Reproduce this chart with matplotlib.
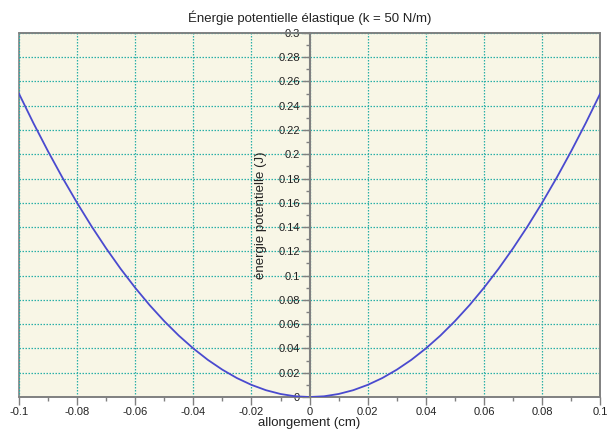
import matplotlib
matplotlib.use("Agg")
import matplotlib.pyplot as plt
from matplotlib.ticker import MultipleLocator, FuncFormatter

plt.rcParams['font.family'] = ['Liberation Sans', 'DejaVu Sans']

# Data (elongation in cm, potential energy in J)
allongement = [-0.100, -0.095, -0.090, -0.085, -0.080, -0.075, -0.070, -0.065, -0.060, -0.055,
               -0.050, -0.045, -0.040, -0.035, -0.030, -0.025, -0.020, -0.015, -0.010, -0.005,
               0.000, 0.005, 0.010, 0.015, 0.020, 0.025, 0.030, 0.035, 0.040, 0.045,
               0.050, 0.055, 0.060, 0.065, 0.070, 0.075, 0.080, 0.085, 0.090, 0.095, 0.100]
energie = [0.2500, 0.2256, 0.2025, 0.1806, 0.1600, 0.1406, 0.1225, 0.1056, 0.0900, 0.0756,
           0.0625, 0.0506, 0.0400, 0.0306, 0.0225, 0.0156, 0.0100, 0.0056, 0.0025, 0.0006,
           0.0000, 0.0006, 0.0025, 0.0056, 0.0100, 0.0156, 0.0225, 0.0306, 0.0400, 0.0506,
           0.0625, 0.0756, 0.0900, 0.1056, 0.1225, 0.1406, 0.1600, 0.1806, 0.2025, 0.2256, 0.2500]

title = "Énergie potentielle élastique (k = 50 N/m)"
xlabel = "allongement (cm)"
ylabel = "énergie potentielle (J)"

fig = plt.figure(figsize=(6.1, 4.32), dpi=100)
ax = fig.add_axes([0.031, 0.081, 0.953, 0.843])
ax.set_facecolor('#F8F6E6')
ax.patch.set_edgecolor('#808080')
ax.patch.set_linewidth(1.2)

ax.plot(allongement, energie, color='#4A4ACF', lw=1.3, zorder=3)

ax.set_xlim(-0.1, 0.1)
ax.set_ylim(0, 0.3)

for s in ['top', 'right', 'bottom']:
    ax.spines[s].set_color('#808080')
    ax.spines[s].set_linewidth(1.2)
ax.spines['left'].set_position(('data', 0))
ax.spines['left'].set_color('#808080')
ax.spines['left'].set_linewidth(1.5)
ax.spines['left'].set_zorder(4)

ax.xaxis.set_major_locator(MultipleLocator(0.02))
ax.xaxis.set_minor_locator(MultipleLocator(0.01))
ax.yaxis.set_major_locator(MultipleLocator(0.02))
ax.yaxis.set_minor_locator(MultipleLocator(0.01))

def fmt(v, pos):
    s = f"{v:.2f}".rstrip('0').rstrip('.')
    if s in ('-0',):
        s = '0'
    return s
ax.xaxis.set_major_formatter(FuncFormatter(fmt))
ax.yaxis.set_major_formatter(FuncFormatter(fmt))

ax.tick_params(axis='both', which='major', length=6, width=1, color='#808080',
               labelsize=8, labelcolor='#222222', direction='out')
ax.tick_params(axis='both', which='minor', length=3, width=1, color='#808080', direction='out')
ax.tick_params(axis='x', pad=1)
ax.tick_params(axis='y', pad=1)

ax.grid(True, which='major', color='#2AAFA8', linestyle=(0, (1.2, 1.2)), lw=0.9, zorder=1)
ax.set_axisbelow(True)

ax.set_title(title, fontsize=9.5, color='#222222', pad=8)
ax.set_xlabel(xlabel, fontsize=9.5, color='#222222', labelpad=0)
ax.set_ylabel(ylabel, fontsize=9.5, color='#222222', labelpad=8)

fig.savefig('out.png', dpi=100)
